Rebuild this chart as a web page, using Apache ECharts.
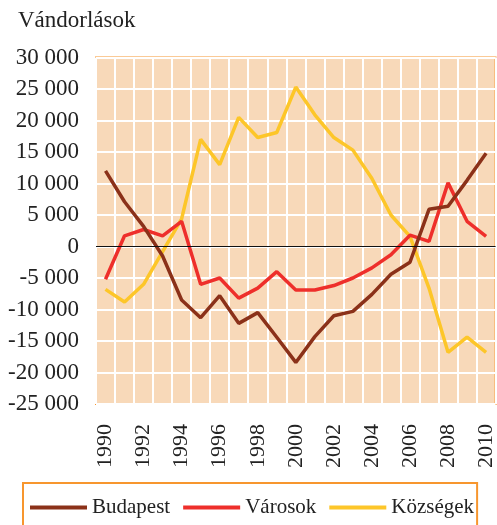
<!DOCTYPE html>
<html>
<head>
<meta charset="utf-8">
<style>
  html, body { margin: 0; padding: 0; background: #fff; }
  #chart { width: 497px; height: 525px; }
</style>
<script src="https://cdn.jsdelivr.net/npm/echarts@6/dist/echarts.min.js"></script>
</head>
<body>
<div id="chart"></div>
<script>
// évek
var years = ['1990', '1991', '1992', '1993', '1994', '1995', '1996', '1997', '1998', '1999', '2000',
  '2001', '2002', '2003', '2004', '2005', '2006', '2007', '2008', '2009', '2010'];

// vándorlási egyenleg, fő
var budapest = [12000, 7100, 3200, -1500, -8500, -11300, -7800, -12200, -10500, -14400, -18400,
  -14300, -11000, -10300, -7600, -4400, -2500, 5900, 6400, 10500, 14800];
var varosok = [-5200, 1700, 2700, 1700, 4000, -6000, -5000, -8200, -6600, -4000, -6900,
  -6900, -6200, -5000, -3400, -1300, 1800, 800, 10100, 4000, 1600];
var kozsegek = [-6800, -8800, -6000, -800, 4400, 17000, 13000, 20500, 17300, 18100, 25300,
  20900, 17300, 15300, 10800, 5000, 1600, -6600, -16800, -14400, -16800];

var serifFont = 'Liberation Serif';

var chart = echarts.init(document.getElementById('chart'));

function fmt(v) {
  var s = String(Math.abs(v)).replace(/\B(?=(\d{3})+(?!\d))/g, ' ');
  return (v < 0 ? '-' : '') + s;
}

var option = {
  animation: false,
  title: {
    text: 'Vándorlások',
    left: 18,
    top: 9,
    padding: 0,
    textStyle: { fontFamily: serifFont, fontSize: 23, fontWeight: 'normal', color: '#222' }
  },
  legend: {
    left: 23,
    top: 483,
    padding: [14, 3, 20, 7],
    itemGap: 13,
    itemWidth: 57,
    itemHeight: 4,
    icon: 'rect',
    borderColor: '#f7962e',
    borderWidth: 2,
    textStyle: { fontFamily: serifFont, fontSize: 21, color: '#222' },
    data: ['Budapest', 'Városok', 'Községek']
  },
  grid: {
    left: 96,
    top: 57.5,
    width: 403,
    bottom: 121,
    show: true,
    backgroundColor: '#f8d9b9',
    borderColor: '#f7962e',
    borderWidth: 2
  },
  xAxis: {
    type: 'category',
    data: years,
    boundaryGap: true,
    axisLine: { show: false },
    axisTick: { show: false },
    axisLabel: {
      interval: 1,
      rotate: 90,
      margin: 20,
      fontFamily: serifFont,
      fontSize: 22,
      color: '#222'
    },
    splitLine: { show: true, interval: 0, lineStyle: { color: '#fff', width: 2 } }
  },
  yAxis: {
    type: 'value',
    min: -25000,
    max: 30000,
    interval: 5000,
    axisLine: { show: false },
    axisTick: { show: false },
    axisLabel: {
      margin: 17,
      fontFamily: serifFont,
      fontSize: 23,
      color: '#222',
      formatter: fmt
    },
    splitLine: { lineStyle: { color: '#fff', width: 2 } }
  },
  series: [
    {
      name: 'Budapest',
      type: 'line',
      data: budapest,
      symbol: 'none',
      color: '#8b3119',
      lineStyle: { width: 3.5 },
      z: 4,
      markLine: {
        silent: true,
        symbol: 'none',
        label: { show: false },
        lineStyle: { color: '#111', width: 1, type: 'solid' },
        data: [{ yAxis: 0 }]
      }
    },
    {
      name: 'Városok',
      type: 'line',
      data: varosok,
      symbol: 'none',
      color: '#ee2f2b',
      lineStyle: { width: 3.5 },
      z: 3
    },
    {
      name: 'Községek',
      type: 'line',
      data: kozsegek,
      symbol: 'none',
      color: '#fdc629',
      lineStyle: { width: 3.5 },
      z: 2
    }
  ]
};

chart.setOption(option);
</script>
</body>
</html>
